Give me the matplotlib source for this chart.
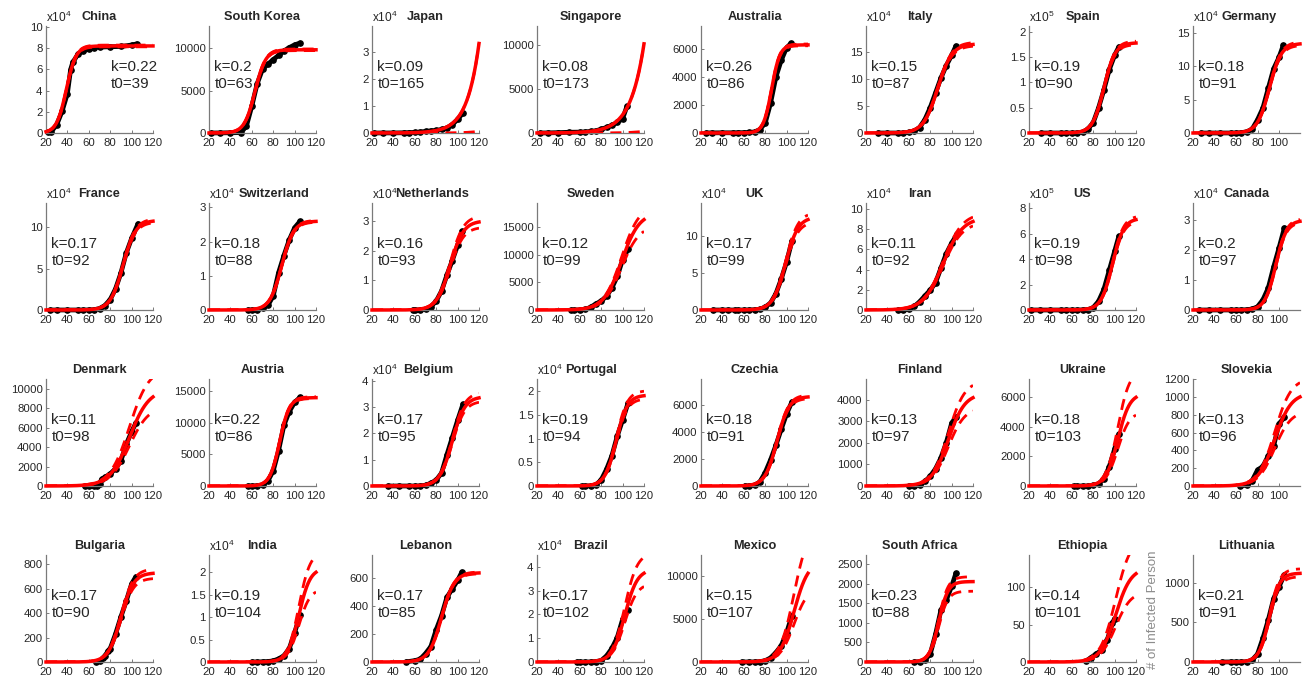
import numpy as np
import matplotlib.pyplot as plt

plt.rcParams['font.family'] = ['Liberation Sans', 'DejaVu Sans']
plt.rcParams['mathtext.fontset'] = 'custom'
plt.rcParams['mathtext.rm'] = 'Liberation Sans'

countries = ['China', 'South Korea', 'Japan', 'Singapore', 'Australia', 'Italy', 'Spain', 'Germany',
             'France', 'Switzerland', 'Netherlands', 'Sweden', 'UK', 'Iran', 'US', 'Canada',
             'Denmark', 'Austria', 'Belgium', 'Portugal', 'Czechia', 'Finland', 'Ukraine', 'Slovekia',
             'Bulgaria', 'India', 'Lebanon', 'Brazil', 'Mexico', 'South Africa', 'Ethiopia', 'Lithuania']

# fitted logistic parameters (k, t0 as printed; cap read from the plateau)
k_fit = [0.22, 0.2, 0.09, 0.08, 0.26, 0.15, 0.19, 0.18,
         0.17, 0.18, 0.16, 0.12, 0.17, 0.11, 0.19, 0.2,
         0.11, 0.22, 0.17, 0.19, 0.18, 0.13, 0.18, 0.13,
         0.17, 0.19, 0.17, 0.17, 0.15, 0.23, 0.14, 0.21]
t0_fit = [39, 63, 165, 173, 86, 87, 90, 91,
          92, 88, 93, 99, 99, 92, 98, 97,
          98, 86, 95, 94, 91, 97, 103, 96,
          90, 104, 85, 102, 107, 88, 101, 91]
cap = [82000, 9800, 1.93e6, 7.1e5, 6300, 165000, 178000, 134000,
       108000, 26000, 30000, 17700, 126000, 91700, 720000, 30000,
       10000, 14000, 34000, 19200, 6600, 4290, 6280, 1047,
       731, 21000, 635, 39000, 11780, 2060, 126, 1120]
# dashed bounds as fraction of the cap
band_hi = [1.01, 1.01, 1.0, 1.0, 1.01, 1.02, 1.02, 1.02,
           1.02, 1.01, 1.06, 1.08, 1.05, 1.05, 1.03, 1.02,
           1.22, 1.01, 1.05, 1.05, 1.02, 1.14, 1.26, 1.16,
           1.045, 1.18, 1.01, 1.18, 1.35, 1.06, 1.33, 1.05]
band_lo = [0.99, 0.99, 0.02, 0.02, 0.99, 0.98, 0.98, 0.98,
           0.98, 0.99, 0.93, 0.87, 0.95, 0.95, 0.97, 0.98,
           0.83, 0.99, 0.95, 0.96, 0.98, 0.85, 0.80, 0.81,
           0.94, 0.78, 0.99, 0.85, 0.75, 0.88, 0.75, 0.96]

# axes
y_top = [100800, 12600, 39500, 12100, 7650, 198000, 211000, 160000,
         129000, 31300, 36000, 19400, 145000, 106000, 840000, 35800,
         11030, 16950, 40700, 22600, 7890, 4950, 7240, 1201,
         877, 23900, 761, 44900, 12440, 2740, 142.7, 1349]
y_step = [20000, 5000, 10000, 5000, 2000, 50000, 50000, 50000,
          50000, 10000, 10000, 5000, 50000, 20000, 200000, 10000,
          2000, 5000, 10000, 5000, 2000, 1000, 2000, 200,
          200, 5000, 200, 10000, 5000, 500, 50, 500]
y_exp = [4, 0, 4, 0, 0, 4, 5, 4,
         4, 4, 4, 0, 4, 4, 5, 4,
         0, 0, 4, 4, 0, 0, 0, 0,
         0, 4, 0, 4, 0, 0, 0, 0]
x_end = [120, 120, 120, 120, 120, 120, 120, 119.5,
         120, 120, 120, 120, 120, 120, 120, 119.5,
         120, 120, 120, 120, 120, 120, 120, 119.5,
         120, 120, 120, 120, 120, 120, 120, 119.5]

# observed cumulative cases (day of year, count)
obs_days = [
    [22, 25, 30, 35, 40, 43, 45, 50, 55, 60, 65, 70, 80, 90, 100, 105],
    [22, 30, 40, 50, 55, 60, 65, 70, 75, 80, 85, 90, 95, 100, 105],
    [22, 30, 40, 50, 55, 60, 65, 70, 75, 80, 85, 90, 95, 100, 105],
    [23, 30, 40, 50, 60, 65, 70, 75, 80, 85, 90, 95, 100, 104],
    [25, 30, 40, 50, 55, 60, 65, 70, 75, 80, 85, 90, 95, 100, 104],
    [31, 40, 50, 55, 60, 65, 70, 75, 80, 85, 90, 95, 100, 104],
    [31, 40, 50, 55, 60, 65, 70, 75, 80, 85, 90, 95, 100, 104],
    [27, 35, 45, 55, 60, 65, 70, 75, 80, 85, 90, 95, 100, 104],
    [24, 30, 40, 50, 55, 60, 65, 70, 75, 80, 85, 90, 95, 100, 106],
    [56, 60, 65, 70, 75, 80, 85, 90, 95, 100, 105],
    [58, 60, 65, 70, 75, 80, 85, 90, 95, 100, 104],
    [52, 55, 60, 65, 70, 75, 80, 85, 90, 95, 100, 105],
    [31, 40, 45, 52, 55, 60, 65, 70, 75, 80, 85, 90, 95, 100, 105],
    [50, 55, 60, 65, 70, 75, 80, 85, 90, 95, 100, 105],
    [22, 30, 40, 50, 55, 60, 65, 70, 75, 80, 85, 90, 95, 100, 104],
    [26, 35, 45, 55, 60, 65, 70, 75, 80, 85, 90, 95, 100, 105],
    [56, 60, 65, 68, 70, 72, 75, 80, 85, 90, 95, 100, 104],
    [56, 60, 65, 70, 75, 80, 85, 90, 95, 100, 105],
    [35, 45, 55, 60, 65, 70, 75, 80, 85, 90, 95, 100, 105],
    [62, 65, 70, 75, 80, 85, 90, 95, 100, 105],
    [61, 65, 70, 75, 80, 85, 90, 95, 100, 105],
    [60, 65, 70, 75, 80, 85, 90, 95, 100, 104],
    [62, 65, 70, 75, 80, 85, 90, 95, 100, 104],
    [64, 70, 75, 80, 85, 90, 95, 100, 105],
    [67, 70, 73, 75, 78, 80, 85, 90, 95, 100, 104],
    [60, 65, 70, 75, 80, 85, 90, 95, 100, 105],
    [52, 60, 65, 70, 75, 80, 85, 90, 95, 100, 104],
    [57, 60, 65, 70, 75, 80, 85, 90, 95, 100, 105],
    [58, 65, 70, 75, 80, 85, 90, 95, 100, 105],
    [65, 70, 75, 80, 85, 90, 95, 100, 104],
    [73, 78, 83, 88, 93, 98, 100],
    [47, 55, 60, 65, 70, 75, 80, 85, 90, 95, 100, 105],
]
obs_vals = [
    [550, 1400, 7700, 20400, 37200, 59800, 66500, 74500, 77200, 79300, 80500, 80900, 81250, 81500, 82900, 84000],
    [1, 11, 27, 51, 833, 3150, 5800, 7500, 8100, 8650, 9140, 9660, 10060, 10380, 10590],
    [1, 15, 25, 84, 140, 230, 360, 580, 800, 960, 1300, 1900, 3100, 5000, 7400],
    [1, 13, 40, 85, 100, 120, 180, 250, 430, 630, 880, 1190, 1620, 3000],
    [4, 9, 15, 15, 22, 25, 41, 77, 250, 710, 2130, 4000, 5200, 6100, 6400],
    [2, 3, 3, 76, 1128, 3858, 10149, 24747, 47021, 74386, 101739, 124632, 143626, 161000],
    [1, 2, 2, 2, 45, 282, 1695, 7798, 20410, 49515, 85195, 124736, 153222, 170099],
    [1, 12, 16, 18, 79, 482, 1908, 5813, 19848, 37323, 66885, 96092, 113296, 131359],
    [2, 6, 11, 12, 12, 100, 377, 1784, 5423, 12612, 25600, 44550, 68605, 86334, 104000],
    [1, 18, 90, 491, 1359, 4075, 10897, 15922, 20505, 24051, 25936],
    [1, 10, 38, 321, 1135, 2994, 6412, 11750, 16627, 21762, 26500],
    [1, 1, 7, 94, 500, 1100, 1640, 2500, 4028, 6078, 9141, 11000],
    [2, 8, 9, 9, 13, 23, 116, 382, 1140, 3983, 9529, 22141, 41903, 65077, 93873],
    [2, 61, 593, 3513, 8042, 13938, 19644, 27017, 41495, 55743, 66220, 74877],
    [1, 6, 12, 13, 14, 30, 217, 994, 3536, 19100, 68400, 161800, 311600, 460000, 580000],
    [1, 4, 7, 10, 20, 45, 93, 341, 1087, 3409, 7398, 14426, 20765, 27500],
    [0, 2, 10, 30, 250, 700, 900, 1250, 1800, 2600, 4300, 5600, 6500],
    [2, 9, 41, 182, 800, 2388, 5588, 9618, 11781, 13244, 14041],
    [1, 1, 1, 2, 50, 267, 1085, 2257, 4937, 11899, 18431, 24983, 31119],
    [2, 9, 41, 245, 1280, 3544, 6408, 10524, 13956, 17448],
    [3, 12, 63, 298, 995, 1925, 3001, 4190, 5312, 6216],
    [0, 12, 40, 210, 450, 800, 1300, 2000, 2900, 3200],
    [0, 1, 1, 3, 40, 150, 500, 1300, 2500, 3500],
    [0, 10, 60, 180, 220, 340, 450, 700, 770],
    [0, 5, 30, 50, 90, 110, 230, 370, 500, 640, 700],
    [3, 5, 50, 110, 250, 700, 1400, 3000, 6500, 10500],
    [1, 10, 20, 60, 110, 230, 330, 460, 520, 580, 640],
    [1, 2, 8, 34, 200, 621, 2554, 5717, 10278, 17857, 22000],
    [1, 5, 10, 40, 160, 475, 1100, 1900, 3400, 5400],
    [1, 7, 51, 202, 709, 1326, 1585, 1934, 2270],
    [1, 6, 11, 16, 29, 52, 58],
    [0, 1, 1, 1, 3, 25, 100, 300, 530, 800, 950, 1100],
]

# layout in pixels of the 1309x680 canvas
W, H = 1309, 680
col_left = [46, 209, 372, 537, 701, 866, 1029, 1193]
row_top = [26, 203, 379, 555]
ax_w, ax_h = 107, 107
# titles nudged right where they meet the x10^n label
title_shift = {'Switzerland': 12, 'Netherlands': 7, 'Germany': 3, 'Belgium': 3}

spine_col = '#7a7a7a'
text_col = '#262626'
red = '#ff0000'


def logistic(t, K, k, t0):
    return K / (1 + np.exp(-k * (t - t0)))


fig = plt.figure(figsize=(W / 100, H / 100), dpi=100)

for i, name in enumerate(countries):
    r, c = divmod(i, 8)
    ax = fig.add_axes([col_left[c] / W, 1 - (row_top[r] + ax_h) / H, ax_w / W, ax_h / H])
    sc = 10.0 ** y_exp[i]

    t = np.linspace(20, x_end[i], 300)
    ax.plot(np.array(obs_days[i]), np.array(obs_vals[i]) / sc, color='k', lw=3.4,
            marker='o', ms=3.8, solid_capstyle='round', solid_joinstyle='round', zorder=2, clip_on=False)
    for f in (band_hi[i], band_lo[i]):
        ax.plot(t, logistic(t, cap[i] * f, k_fit[i], t0_fit[i]) / sc, color=red, lw=2.0,
                dashes=(4, 2.6), zorder=3)
    ax.plot(t, logistic(t, cap[i], k_fit[i], t0_fit[i]) / sc, color=red, lw=2.5, zorder=4, clip_on=False)

    ax.set_xlim(20, x_end[i])
    ax.set_ylim(0, y_top[i] / sc)
    ax.set_xticks(np.arange(20, x_end[i] + 0.01, 20))
    yt = np.arange(0, y_top[i] + 1e-9, y_step[i]) / sc
    ax.set_yticks(yt)
    ax.set_yticklabels(['%g' % v for v in yt])

    for s in ('top', 'right'):
        ax.spines[s].set_visible(False)
    for s in ('left', 'bottom'):
        ax.spines[s].set_color(spine_col)
        ax.spines[s].set_linewidth(0.9)
    ax.tick_params(direction='in', length=2.5, width=0.7, color=spine_col,
                   labelsize=8.2, labelcolor=text_col)
    ax.tick_params(axis='x', pad=3.5)
    ax.tick_params(axis='y', pad=2.5)

    ttl = ax.set_title(name, fontsize=9.2, fontweight='bold', color=text_col, pad=4)
    ttl.set_x(0.5 + title_shift.get(name, 0) / ax_w)
    if y_exp[i]:
        ax.text(0.0, 1.005, r'x10$^{%d}$' % y_exp[i], transform=ax.transAxes,
                ha='left', va='bottom', fontsize=8.6, color=text_col)

    tx = 0.61 if name == 'China' else 0.05
    ax.text(tx, 0.615, 'k=%g' % k_fit[i], transform=ax.transAxes, fontsize=11,
            color=text_col, va='center', ha='left')
    ax.text(tx, 0.455, 't0=%g' % t0_fit[i], transform=ax.transAxes, fontsize=11,
            color=text_col, va='center', ha='left')

fig.text(1153 / W, 1 - 610 / H, '# of Infected Person', rotation=90, color='#8c8c8c',
         fontsize=9.5, ha='center', va='center')

plt.savefig('out.png', dpi=100)
